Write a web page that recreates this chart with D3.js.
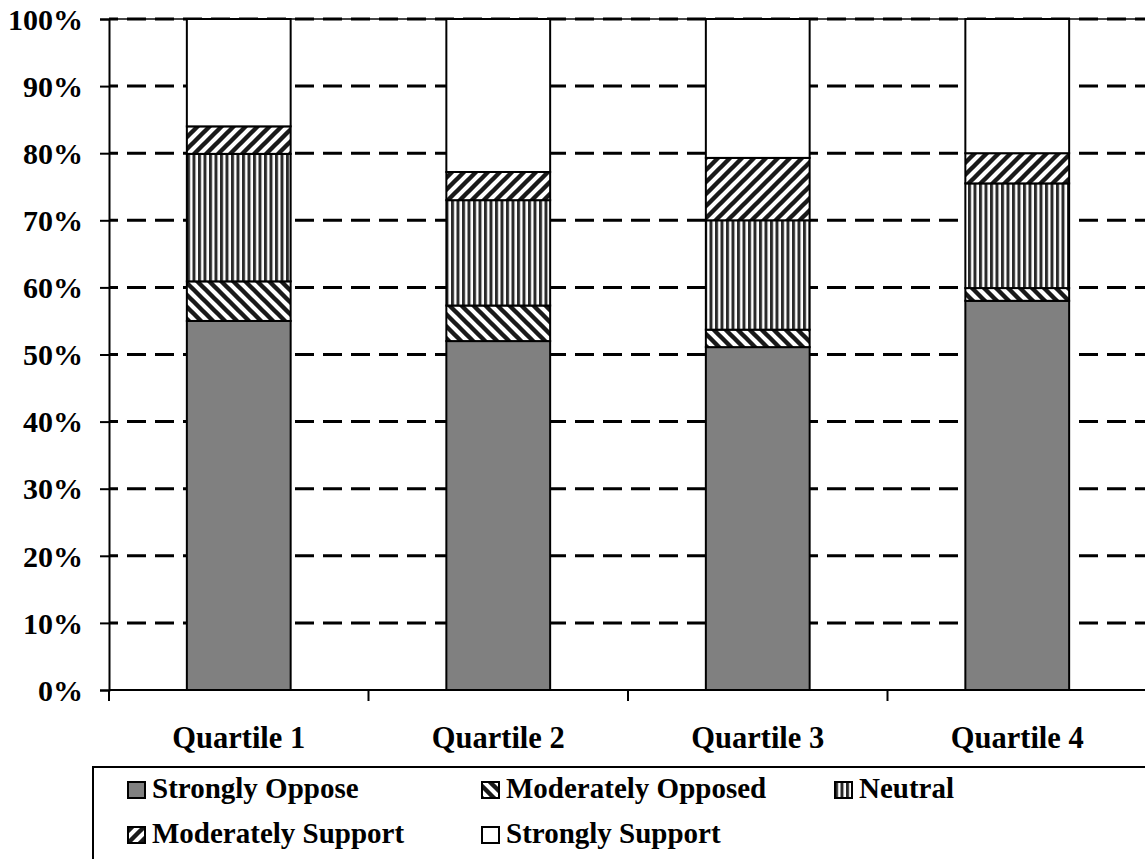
<!DOCTYPE html>
<html>
<head>
<meta charset="utf-8">
<script src="https://cdn.jsdelivr.net/npm/d3@7/dist/d3.min.js"></script>
<style>
  html, body { margin: 0; padding: 0; background: #fff; }
  svg { display: block; }
  text { font-family: "Liberation Serif", "Times New Roman", serif; font-weight: bold; fill: #000; }
</style>
</head>
<body>
<svg id="chart" width="1145" height="859"></svg>
<script>
// Share of responses per quartile (percent)
const categories = ["Quartile 1", "Quartile 2", "Quartile 3", "Quartile 4"];
const stronglyOppose    = [55.0, 52.0, 51.1, 58.0];
const moderatelyOpposed = [5.9, 5.3, 2.6, 1.9];
const neutral           = [19.0, 15.7, 16.3, 15.6];
const moderatelySupport = [4.1, 4.2, 9.3, 4.5];
const stronglySupport   = [16.0, 22.8, 20.7, 20.0];
const seriesNames = ["Strongly Oppose", "Moderately Opposed", "Neutral", "Moderately Support", "Strongly Support"];
const yTicks = [0, 10, 20, 30, 40, 50, 60, 70, 80, 90, 100];
const yTickLabels = yTicks.map(d => d + "%");

const seriesValues = [stronglyOppose, moderatelyOpposed, neutral, moderatelySupport, stronglySupport];
const rows = categories.map((c, i) => {
  const r = { category: c };
  seriesNames.forEach((s, k) => { r[s] = seriesValues[k][i]; });
  return r;
});

const svg = d3.select("#chart");
const defs = svg.append("defs");

// Fill patterns
const pDown = defs.append("pattern").attr("id", "pat-down").attr("patternUnits", "userSpaceOnUse")
  .attr("width", 12).attr("height", 12);
pDown.append("rect").attr("width", 12).attr("height", 12).attr("fill", "#fff");
pDown.append("path").attr("d", "M-3,-3 L15,15 M-3,9 L3,15 M9,-3 L15,3")
  .attr("stroke", "#1a1a1a").attr("stroke-width", 4.4);

const pUp = defs.append("pattern").attr("id", "pat-up").attr("patternUnits", "userSpaceOnUse")
  .attr("width", 12).attr("height", 12);
pUp.append("rect").attr("width", 12).attr("height", 12).attr("fill", "#fff");
pUp.append("path").attr("d", "M-3,15 L15,-3 M-3,3 L3,-3 M9,15 L15,9")
  .attr("stroke", "#1a1a1a").attr("stroke-width", 4.4);

const pVert = defs.append("pattern").attr("id", "pat-vert").attr("patternUnits", "userSpaceOnUse")
  .attr("width", 5.5).attr("height", 10);
pVert.append("rect").attr("width", 5.5).attr("height", 10).attr("fill", "#fff");
pVert.append("rect").attr("x", 0).attr("width", 3).attr("height", 10).attr("fill", "#2a2a2a");

const fills = {
  "Strongly Oppose": "#808080",
  "Moderately Opposed": "url(#pat-down)",
  "Neutral": "url(#pat-vert)",
  "Moderately Support": "url(#pat-up)",
  "Strongly Support": "#ffffff"
};

// Scales
const plotLeft = 109, plotRight = 1147, plotTop = 19, plotBottom = 690;
const x = d3.scaleBand().domain(categories).range([plotLeft, plotRight]).padding(0);
const y = d3.scaleLinear().domain([0, 100]).range([plotBottom, plotTop]);
const barW = x.bandwidth() * 0.4;

// Gridlines
const grid = svg.append("g");
grid.append("line")
  .attr("x1", plotLeft).attr("x2", 1145).attr("y1", y(100)).attr("y2", y(100))
  .attr("stroke", "#444").attr("stroke-width", 2);
grid.selectAll("line.g").data(yTicks.filter(d => d > 0)).join("line")
  .attr("class", "g")
  .attr("x1", plotLeft).attr("x2", 1145)
  .attr("y1", d => y(d)).attr("y2", d => y(d))
  .attr("stroke", "#000").attr("stroke-width", 3)
  .attr("stroke-dasharray", "19,9").attr("stroke-dashoffset", 10);

// Stacked bars
const stack = d3.stack().keys(seriesNames);
const layers = stack(rows);
svg.append("g").selectAll("g").data(layers).join("g")
  .attr("fill", d => fills[d.key])
  .selectAll("rect").data(d => d).join("rect")
  .attr("x", d => x(d.data.category) + (x.bandwidth() - barW) / 2)
  .attr("width", barW)
  .attr("y", d => y(d[1]))
  .attr("height", d => y(d[0]) - y(d[1]))
  .attr("stroke", "#000").attr("stroke-width", 2);

// Y axis
const yAxis = d3.axisLeft(y).tickValues(yTicks).tickFormat((d, i) => yTickLabels[i])
  .tickSize(9).tickPadding(17);
const gy = svg.append("g").attr("transform", `translate(${plotLeft},0)`).call(yAxis);
gy.select(".domain").attr("stroke", "#000").attr("stroke-width", 2);
gy.selectAll(".tick line").attr("stroke", "#000").attr("stroke-width", 2);
gy.selectAll(".tick text")
  .attr("font-size", 30).attr("fill", "#000")
  .attr("dy", "0.34em");

// X axis: line with ticks at category boundaries
const gx = svg.append("g");
gx.append("line").attr("x1", plotLeft).attr("x2", 1145)
  .attr("y1", plotBottom).attr("y2", plotBottom)
  .attr("stroke", "#000").attr("stroke-width", 2);
const bounds = categories.map(c => x(c)).concat([x(categories[categories.length - 1]) + x.bandwidth()]);
gx.selectAll("line.t").data(bounds).join("line").attr("class", "t")
  .attr("x1", d => d).attr("x2", d => d)
  .attr("y1", plotBottom).attr("y2", plotBottom + 11)
  .attr("stroke", "#000").attr("stroke-width", 2);
gx.selectAll("text").data(categories).join("text")
  .attr("x", d => x(d) + x.bandwidth() / 2)
  .attr("y", 748)
  .attr("text-anchor", "middle")
  .attr("font-size", 30.5)
  .text(d => d);

// Legend
svg.append("rect").attr("x", 93).attr("y", 767).attr("width", 1100).attr("height", 200)
  .attr("fill", "#fff").attr("stroke", "#000").attr("stroke-width", 2);
const legendPos = [
  { col: 0, row: 0 }, { col: 1, row: 0 }, { col: 2, row: 0 },
  { col: 0, row: 1 }, { col: 1, row: 1 }
];
const colX = [128, 482, 835];
const rowY = [798, 843];
const lg = svg.append("g").selectAll("g").data(seriesNames).join("g")
  .attr("transform", (d, i) => `translate(${colX[legendPos[i].col]},${rowY[legendPos[i].row]})`);
lg.append("rect").attr("x", 0).attr("y", -16).attr("width", 17).attr("height", 16)
  .attr("fill", d => fills[d]).attr("stroke", "#000").attr("stroke-width", 2);
lg.append("text").attr("x", 24).attr("y", 0).attr("font-size", 29).text(d => d);
</script>
</body>
</html>
